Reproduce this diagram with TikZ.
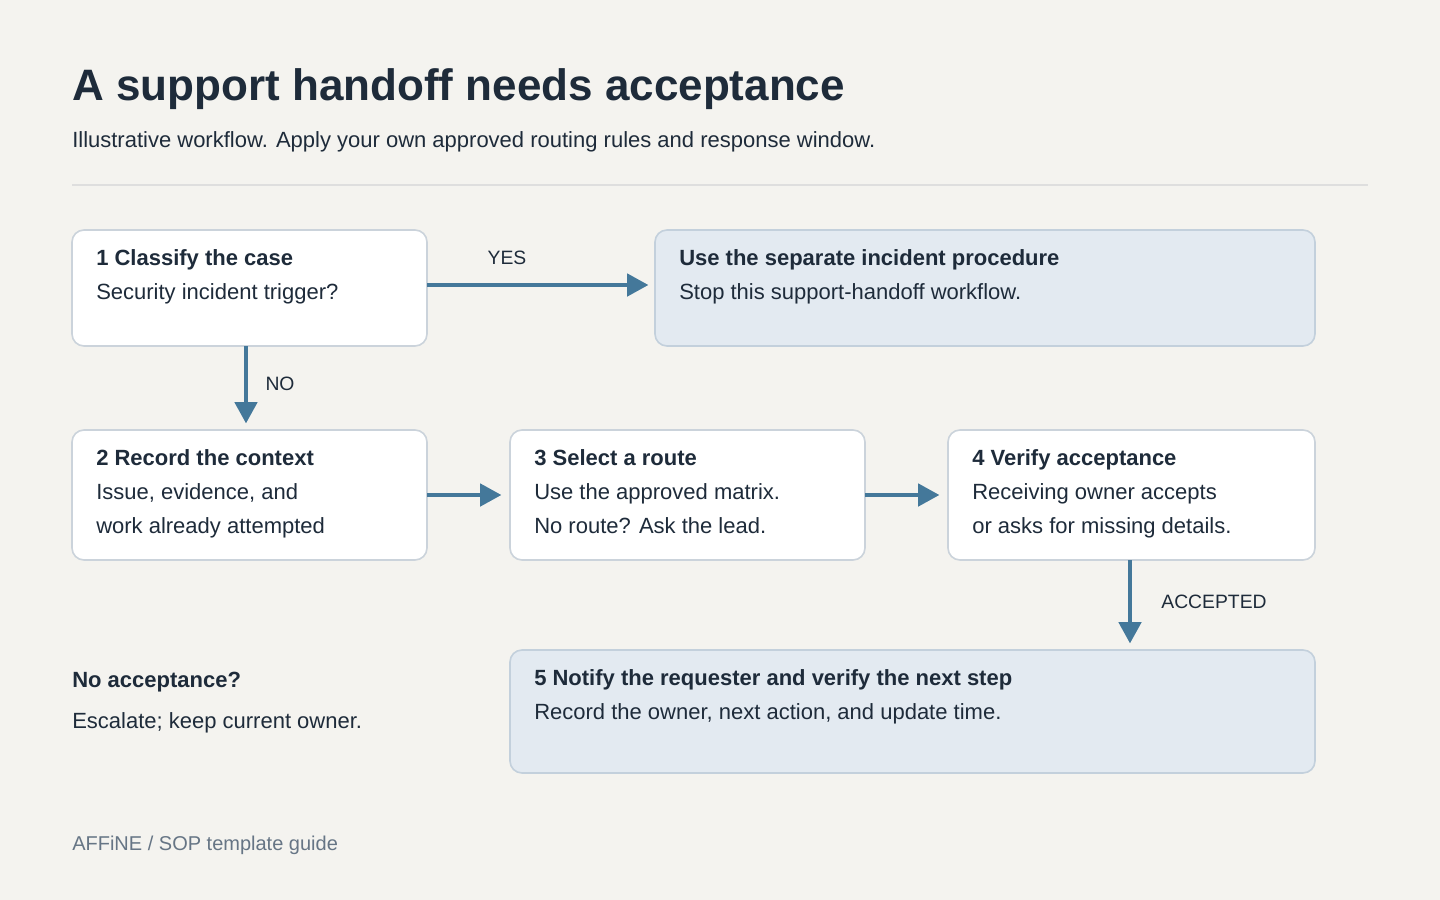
\documentclass[tikz,border=0pt]{standalone}
\usepackage{fontspec}
\setmainfont{Liberation Sans}
\usetikzlibrary{arrows.meta,positioning}
\definecolor{bgpaper}{HTML}{F4F3EF}
\definecolor{inkdark}{HTML}{1E2B3A}
\definecolor{inkgray}{HTML}{667585}
\definecolor{flowblue}{HTML}{44789A}
\definecolor{boxline}{HTML}{CBD3DB}
\definecolor{softblue}{HTML}{E3EAF1}
\definecolor{softline}{HTML}{C3D0DC}
\newcommand\bodysize{\fontsize{16.5pt}{25.5pt}\selectfont}

\begin{document}
\begin{tikzpicture}[
    x=0.75pt,y=-0.75pt,
    stepbox/.style={draw=boxline,line width=1.2pt,fill=white,rounded corners=9pt},
    endbox/.style={stepbox,draw=softline,fill=softblue},
    txt/.style={anchor=north west,align=left,inner sep=0pt,text=inkdark,font=\bodysize},
    tag/.style={text=inkdark,font=\fontsize{14.5pt}{16pt}\selectfont,inner sep=0pt},
    arr/.style={-{Triangle[length=16pt,width=17pt]},draw=flowblue,line width=2.3pt,shorten >=5pt}
  ]
    \fill[bgpaper] (0,0) rectangle (1440,900);
    \useasboundingbox (0,0) rectangle (1440,900);

    % heading
    \node[anchor=base west,inner sep=0pt,text=inkdark,font=\fontsize{33pt}{36pt}\selectfont\bfseries]
      (title) at (72,100) {A support handoff needs acceptance};
    \node[anchor=base west,inner sep=0pt,text=inkdark,font=\fontsize{16.5pt}{20pt}\selectfont]
      (subtitle) at (72,147) {Illustrative workflow. Apply your own approved routing rules and response window.};
    \draw[black!13,line width=1pt] (72,185) -- (1368,185);

    % boxes
    \draw[stepbox] (72,230) rectangle (427,346);
    \draw[endbox] (655,230) rectangle (1315,346);
    \draw[stepbox] (72,430) rectangle (427,560);
    \draw[stepbox] (510,430) rectangle (865,560);
    \draw[stepbox] (948,430) rectangle (1315,560);
    \draw[endbox] (510,650) rectangle (1315,773);

    \node[txt] (t1) at (96,249) {\textbf{1 Classify the case}\\Security incident trigger?};
    \node[txt] (tinc) at (679,249) {\textbf{Use the separate incident procedure}\\Stop this support-handoff workflow.};
    \node[txt] (t2) at (96,449) {\textbf{2 Record the context}\\Issue, evidence, and\\work already attempted};
    \node[txt] (t3) at (534,449) {\textbf{3 Select a route}\\Use the approved matrix.\\No route? Ask the lead.};
    \node[txt] (t4) at (972,449) {\textbf{4 Verify acceptance}\\Receiving owner accepts\\or asks for missing details.};
    \node[txt] (t5) at (534,669) {\textbf{5 Notify the requester and verify the next step}\\Record the owner, next action, and update time.};

    % connectors
    \coordinate (a1) at (427,285);  \coordinate (b1) at (655,285);
    \coordinate (a2) at (246,346);  \coordinate (b2) at (246,430);
    \coordinate (a3) at (427,495);  \coordinate (b3) at (508,495);
    \coordinate (a4) at (865,495);  \coordinate (b4) at (946,495);
    \coordinate (a5) at (1130,560); \coordinate (b5) at (1130,650);
    \draw[arr] (a1) -- (b1);
    \draw[arr] (a2) -- (b2);
    \draw[arr] (a3) -- (b3);
    \draw[arr] (a4) -- (b4);
    \draw[arr] (a5) -- (b5);
    \node[tag] (yes) at (507,258) {YES};
    \node[tag] (no) at (280,384) {NO};
    \node[tag] (acc) at (1214,602) {ACCEPTED};

    % side note and footer
    \node[txt] (fallback) at (72,672) {\textbf{No acceptance?}};
    \node[txt] (fallbacktxt) at (72,712) {Escalate; keep current owner.};
    \node[anchor=base west,inner sep=0pt,text=inkgray,font=\fontsize{15pt}{18pt}\selectfont]
      (footer) at (72,850) {AFFiNE / SOP template guide};
\end{tikzpicture}
\end{document}
